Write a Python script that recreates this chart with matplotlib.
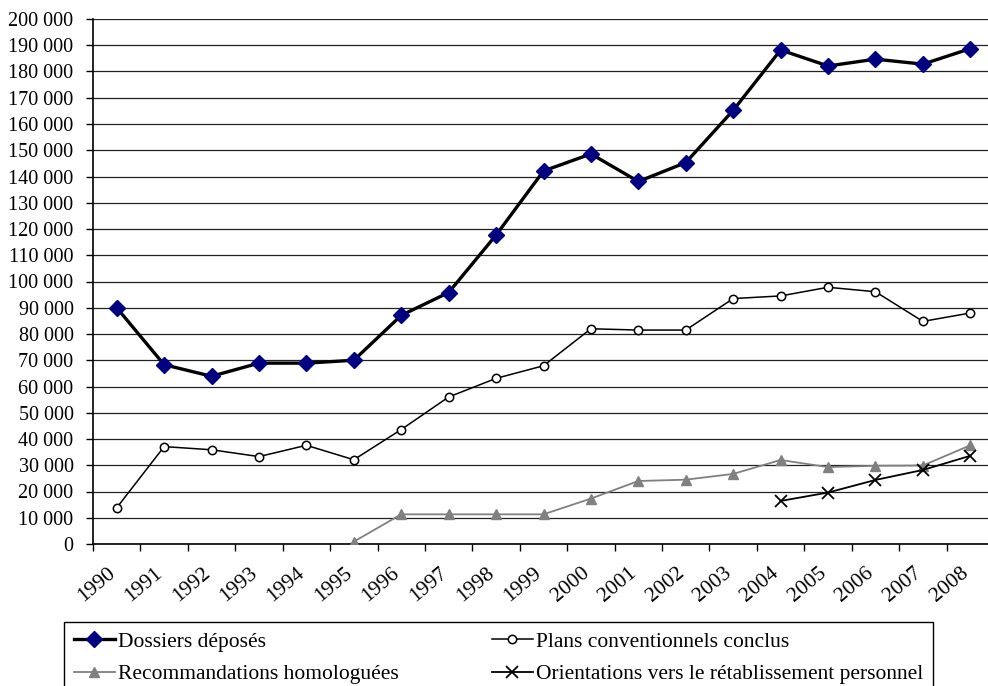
import matplotlib
matplotlib.use("Agg")
import matplotlib.pyplot as plt
import matplotlib.transforms as mtransforms
from matplotlib.ticker import FixedLocator, FuncFormatter
import numpy as np

plt.rcParams['font.family'] = ['Liberation Serif', 'DejaVu Serif']

years = [str(y) for y in range(1990, 2009)]

# values
dossiers = [90000, 68300, 63900, 68900, 68900, 70000, 87100, 95800, 117700, 142100,
            148600, 138100, 145300, 165200, 188200, 182100, 184700, 182800, 188700]
plans = [13800, 37100, 35900, 33300, 37600, 32100, 43600, 56000, 63100, 67900,
         82000, 81500, 81500, 93500, 94500, 97800, 96100, 84800, 88000]
recomm = [None, None, None, None, None, 900, 11300, 11300, 11300, 11300,
          17300, 24000, 24500, 26700, 32000, 29300, 29800, 29900, 37600]
orient = [None] * 14 + [16400, 19600, 24400, 28200, 33600]

labels = ["Dossiers déposés", "Plans conventionnels conclus",
          "Recommandations homologuées", "Orientations vers le rétablissement personnel"]


def to_arr(vals):
    return np.array([np.nan if v is None else v for v in vals], dtype=float)


fig = plt.figure(figsize=(9.88, 6.86), dpi=100)
ax = fig.add_axes([93 / 988, 142 / 686, 901 / 988, 525 / 686])

x = np.arange(len(years))

l1, = ax.plot(x, to_arr(dossiers), color='black', lw=2.4, marker='D', ms=8.5,
              mfc='#000080', mec='#000080', zorder=5)
l2, = ax.plot(x, to_arr(plans), color='black', lw=1.1, marker='o', ms=6,
              mfc='white', mec='black', mew=1.1, zorder=4)
l3, = ax.plot(x, to_arr(recomm), color='#808080', lw=1.3, marker='^', ms=7,
              mfc='#808080', mec='#808080', zorder=3)
l4, = ax.plot(x, to_arr(orient), color='black', lw=1.3, marker='x', ms=8,
              mec='black', mew=1.3, zorder=4)

ax.set_xlim(-0.5, len(years) - 0.5)
ax.set_ylim(0, 200000)

ax.yaxis.set_major_locator(FixedLocator(np.arange(0, 200001, 10000)))
ax.yaxis.set_major_formatter(FuncFormatter(lambda v, p: f"{int(v):,}".replace(",", " ")))
ax.grid(axis='y', color='#222222', lw=0.9)
ax.set_axisbelow(True)

# ticks on category boundaries, labels at centres
ax.xaxis.set_major_locator(FixedLocator(np.arange(-0.5, len(years), 1.0)))
ax.xaxis.set_major_formatter(FuncFormatter(lambda v, p: ""))
ax.xaxis.set_minor_locator(FixedLocator(x))
ax.set_xticklabels(years, minor=True)
ax.tick_params(axis='x', which='minor', length=0, labelsize=15.5, pad=14)
ax.tick_params(axis='x', which='major', length=5, width=1, color='black', direction='out')
ax.tick_params(axis='y', length=5, width=1, labelsize=14.5, pad=9, direction='out')
shift = mtransforms.ScaledTranslation(-0.10, 0, fig.dpi_scale_trans)
for lab in ax.get_xticklabels(minor=True):
    lab.set_rotation(40)
    lab.set_ha('right')
    lab.set_va('top')
    lab.set_rotation_mode('anchor')
    lab.set_transform(lab.get_transform() + shift)

for s in ['top', 'right']:
    ax.spines[s].set_visible(False)
for s in ['left', 'bottom']:
    ax.spines[s].set_color('black')
    ax.spines[s].set_linewidth(1.2)

leg = fig.legend([l1, l3, l2, l4], [labels[0], labels[2], labels[1], labels[3]],
                 ncol=2, loc='upper left', mode='expand',
                 bbox_to_anchor=(64 / 988, 0, 869 / 988, 64 / 686),
                 fontsize=15.5, frameon=True, fancybox=False, shadow=False,
                 handlelength=1.9, handletextpad=0.15, borderpad=0.45,
                 labelspacing=0.58, numpoints=1, borderaxespad=0)
leg.get_frame().set_edgecolor('black')
leg.get_frame().set_linewidth(1.0)
leg.get_frame().set_alpha(1)

fig.savefig("out.png", dpi=100)
